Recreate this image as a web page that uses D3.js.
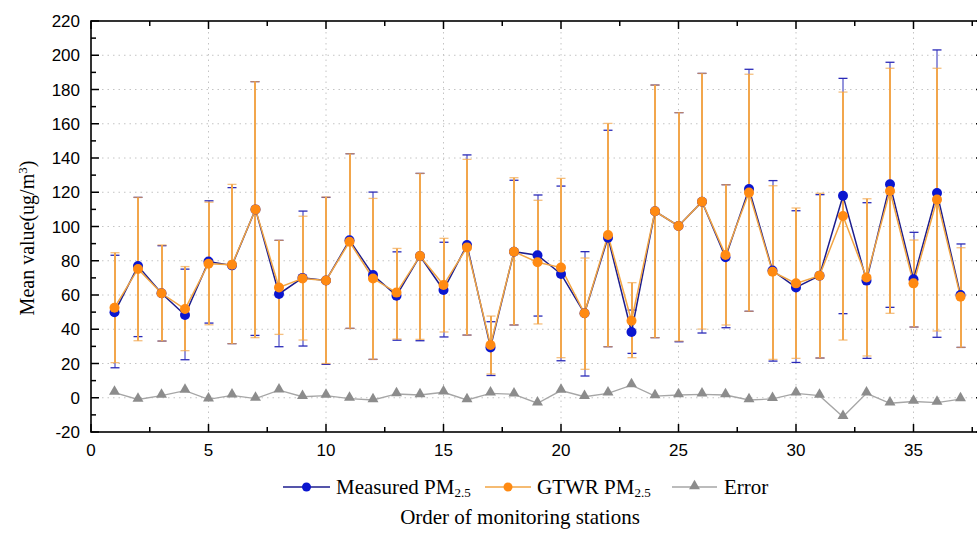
<!DOCTYPE html>
<html lang="en">
<head>
<meta charset="utf-8">
<title>PM2.5</title>
<script src="https://d3js.org/d3.v7.min.js"></script>
<style>
  body { margin: 0; background: #fff; }
  svg { display: block; }
  .tick-label { font-family: "Liberation Sans", Arial, sans-serif; font-size: 17px; fill: #000; }
  .serif { font-family: "Liberation Serif", "Times New Roman", serif; fill: #000; }
</style>
</head>
<body>
<div id="chart"></div>
<script>

// station order on x axis
var stations = [1, 2, 3, 4, 5, 6, 7, 8, 9, 10, 11, 12, 13, 14, 15, 16, 17, 18, 19, 20,
  21, 22, 23, 24, 25, 26, 27, 28, 29, 30, 31, 32, 33, 34, 35, 36, 37];

var measured = [49.9, 76.9, 61.0, 48.3, 79.5, 77.3, 110.0, 60.6, 70.0, 68.5, 92.0, 71.7, 59.6, 82.8, 62.9, 89.2, 29.4, 85.3, 83.2, 72.3,
  49.3, 93.5, 38.4, 108.9, 100.3, 114.5, 82.0, 121.9, 74.3, 64.4, 71.3, 118.0, 68.4, 124.6, 69.2, 119.6, 60.0];
var measuredHigh = [83.2, 117, 88.8, 75.1, 115, 122.7, 184.6, 91.9, 109, 117, 142.5, 120.1, 85.2, 131, 90.8, 141.8, 44.4, 127, 118.4, 123.6,
  85.3, 156.2, 51.2, 182.6, 166.5, 189.4, 124.4, 191.8, 126.8, 109.2, 118.6, 186.5, 113.9, 195.9, 96.6, 203.1, 89.8];
var measuredLow = [17.5, 35.7, 33.1, 22.2, 43.6, 31.6, 36.4, 29.8, 30.2, 19.5, 40.5, 22.4, 33.6, 33.3, 35.5, 36.6, 13.0, 42.5, 47.7, 21.6,
  12.7, 29.8, 25.9, 35.1, 32.7, 37.8, 40.9, 50.5, 21.4, 20.6, 23.2, 49.1, 23.0, 52.8, 41.3, 35.3, 29.4];

var gtwr = [52.6, 75.2, 61.0, 51.8, 78.3, 77.7, 110.0, 64.4, 69.7, 68.5, 91.1, 69.6, 61.4, 82.8, 65.8, 87.8, 30.8, 85.3, 79.1, 76.0,
  49.3, 95.0, 45.0, 108.9, 100.3, 114.5, 83.4, 119.8, 73.6, 66.8, 71.3, 106.1, 70.2, 120.7, 66.8, 115.7, 59.0];
var gtwrHigh = [84.7, 117, 89.2, 76.6, 114.2, 124.6, 184.6, 91.9, 106, 117.2, 142.5, 116.4, 87.2, 131, 93.1, 139.2, 47.7, 128.5, 115.3, 128.1,
  81.6, 160.2, 67.2, 182.6, 166.5, 189.4, 124.4, 188.9, 123.8, 110.8, 119.4, 178.5, 116.2, 192.4, 92.1, 192.4, 87.6];
var gtwrLow = [20.5, 33.3, 33.1, 27.5, 42.6, 31.6, 35.1, 37.0, 33.7, 20.0, 40.5, 22.4, 34.3, 34.1, 38.4, 36.6, 13.9, 42.5, 43.1, 23.4,
  16.6, 29.8, 23.4, 35.1, 33.1, 40.1, 42.5, 50.5, 22.4, 23.0, 23.2, 33.7, 24.4, 49.3, 41.3, 39.0, 29.4];

var errorVals = [3.0, -1.0, 1.2, 4.2, -0.9, 1.4, -0.5, 4.4, 0.6, 1.2, -0.5, -1.3, 2.2, 1.6, 3.2, -1.3, 2.6, 2.0, -3.2, 4.2,
  0.6, 2.6, 7.4, 1.0, 1.6, 2.0, 1.6, -1.3, -0.7, 2.6, 1.2, -11.1, 2.6, -3.2, -2.2, -2.8, -0.8];

var xTicks = [0, 5, 10, 15, 20, 25, 30, 35];
var yTicks = [-20, 0, 20, 40, 60, 80, 100, 120, 140, 160, 180, 200, 220];

// layout
var W = 977, H = 539;
var plotLeft = 91, plotRight = 984, plotTop = 21, plotBottom = 432;

var svg = d3.select("#chart").append("svg")
  .attr("width", W)
  .attr("height", H);

var x = d3.scaleLinear().domain([0, 38]).range([plotLeft, plotRight]);
var y = d3.scaleLinear().domain([-20, 220]).range([plotBottom, plotTop]);

var blue = "#0b16cf", blueLine = "#1d1d8e", blueBar = "#2a2ab8";
var orange = "#ff8a12", orangeLine = "#f2a543", orangeBar = "#f2a64c";
var grey = "#8c8c8c", greyLine = "#a6a6a6";

/* ---------- grid ---------- */
svg.append("g").selectAll("line")
  .data(yTicks.filter(function(d) { return d > -20 && d < 220; }))
  .enter().append("line")
    .attr("x1", plotLeft).attr("x2", plotRight)
    .attr("y1", function(d) { return y(d); })
    .attr("y2", function(d) { return y(d); })
    .attr("stroke", "#c4c4c4")
    .attr("stroke-width", 1)
    .style("stroke-dasharray", "1.5,4");
svg.append("g").selectAll("line")
  .data(xTicks.filter(function(d) { return d > 0; }))
  .enter().append("line")
    .attr("x1", function(d) { return x(d); })
    .attr("x2", function(d) { return x(d); })
    .attr("y1", plotTop).attr("y2", plotBottom)
    .attr("stroke", "#c4c4c4")
    .attr("stroke-width", 1)
    .style("stroke-dasharray", "1.5,4");

/* ---------- error bars ---------- */
// stems snapped to the pixel grid so the blue one does not bleed through the orange
function errorBars(lo, hi, color, stemWidth, capOpacity) {
  var g = svg.append("g")
    .attr("stroke", color);
  g.selectAll(null).data(stations).enter().append("line")
    .attr("x1", function(d) { return Math.round(x(d)); })
    .attr("x2", function(d) { return Math.round(x(d)); })
    .attr("y1", function(d, i) { return y(lo[i]); })
    .attr("y2", function(d, i) { return y(hi[i]); })
    .attr("stroke-width", stemWidth);
  [lo, hi].forEach(function(arr) {
    g.selectAll(null).data(stations).enter().append("line")
      .attr("x1", function(d) { return Math.round(x(d)) - 4.5; })
      .attr("x2", function(d) { return Math.round(x(d)) + 4.5; })
      .attr("y1", function(d, i) { return y(arr[i]); })
      .attr("y2", function(d, i) { return y(arr[i]); })
      .attr("stroke-width", 1.3)
      .attr("opacity", capOpacity);
  });
}
errorBars(measuredLow, measuredHigh, blueBar, 1, 1);
errorBars(gtwrLow, gtwrHigh, orangeBar, 2, 0.7);

/* ---------- lines ---------- */
function seriesLine(vals, color, width) {
  var line = d3.line()
    .x(function(d) { return x(d); })
    .y(function(d, i) { return y(vals[i]); });
  svg.append("path")
    .datum(stations)
    .attr("d", line)
    .attr("fill", "none")
    .attr("stroke", color)
    .attr("stroke-width", width);
}
seriesLine(measured, blueLine, 1.5);
seriesLine(gtwr, orangeLine, 1.5);

svg.append("g").selectAll("circle")
  .data(stations).enter().append("circle")
    .attr("cx", function(d) { return x(d); })
    .attr("cy", function(d, i) { return y(measured[i]); })
    .attr("r", 5)
    .attr("fill", blue);
svg.append("g").selectAll("circle")
  .data(stations).enter().append("circle")
    .attr("cx", function(d) { return x(d); })
    .attr("cy", function(d, i) { return y(gtwr[i]); })
    .attr("r", 5)
    .attr("fill", orange);

seriesLine(errorVals, greyLine, 1.3);
var tri = d3.symbol().type(d3.symbolTriangle).size(52);
svg.append("g").selectAll("path")
  .data(stations).enter().append("path")
    .attr("d", tri)
    .attr("transform", function(d, i) { return "translate(" + x(d) + "," + (y(errorVals[i]) - 1) + ")"; })
    .attr("fill", grey);

/* ---------- axes frame ---------- */
var minorX = d3.range(0, 38.1, 2.5);
var minorY = d3.range(-20, 221, 10);
var ticks = svg.append("g").attr("stroke", "#000").attr("stroke-width", 1.5);
minorX.forEach(function(d) {
  var len = (d % 5 === 0) ? 8 : 5;
  ticks.append("line").attr("x1", x(d)).attr("x2", x(d)).attr("y1", plotBottom).attr("y2", plotBottom - len);
  ticks.append("line").attr("x1", x(d)).attr("x2", x(d)).attr("y1", plotTop).attr("y2", plotTop + len);
});
minorY.forEach(function(d) {
  var len = (d % 20 === 0) ? 8 : 5;
  ticks.append("line").attr("x1", plotLeft).attr("x2", plotLeft + len).attr("y1", y(d)).attr("y2", y(d));
  ticks.append("line").attr("x1", plotRight).attr("x2", plotRight - len).attr("y1", y(d)).attr("y2", y(d));
});
svg.append("rect")
  .attr("x", plotLeft).attr("y", plotTop)
  .attr("width", plotRight - plotLeft).attr("height", plotBottom - plotTop)
  .attr("fill", "none")
  .attr("stroke", "#000")
  .attr("stroke-width", 1.6);

// tick labels
svg.append("g").selectAll("text")
  .data(yTicks).enter().append("text")
    .attr("class", "tick-label")
    .attr("x", 80)
    .attr("y", function(d) { return y(d) + 6; })
    .attr("text-anchor", "end")
    .text(function(d) { return d; });
svg.append("g").selectAll("text")
  .data(xTicks).enter().append("text")
    .attr("class", "tick-label")
    .attr("x", function(d) { return x(d); })
    .attr("y", 456)
    .attr("text-anchor", "middle")
    .text(function(d) { return d; });

// axis titles
var yt = svg.append("text")
  .attr("class", "serif")
  .attr("transform", "translate(34,238) rotate(-90)")
  .attr("text-anchor", "middle")
  .style("font-size", "20px");
yt.append("tspan").text("Mean value(ug/m");
yt.append("tspan").attr("baseline-shift", "super").style("font-size", "13px").text("3");
yt.append("tspan").text(")");

svg.append("text")
  .attr("class", "serif")
  .attr("x", 520)
  .attr("y", 524)
  .attr("text-anchor", "middle")
  .style("font-size", "21px")
  .text("Order of monitoring stations");

/* ---------- legend ---------- */
var legendY = 487;
var legendItems = [
  {x1: 283, x2: 330, color: blueLine, mark: "dot", fill: blue, label: "Measured PM", sub: "2.5", tx: 336},
  {x1: 485, x2: 531, color: orangeLine, mark: "dot", fill: orange, label: "GTWR PM", sub: "2.5", tx: 537},
  {x1: 672, x2: 717, color: greyLine, mark: "tri", fill: grey, label: "Error", sub: "", tx: 724}
];
legendItems.forEach(function(it) {
  svg.append("line")
    .attr("x1", it.x1).attr("x2", it.x2)
    .attr("y1", legendY).attr("y2", legendY)
    .attr("stroke", it.color).attr("stroke-width", 1.5);
  var cx = (it.x1 + it.x2) / 2;
  if (it.mark === "dot") {
    svg.append("circle").attr("cx", cx).attr("cy", legendY).attr("r", 4.5).attr("fill", it.fill);
  } else {
    svg.append("path").attr("d", tri).attr("transform", "translate(" + cx + "," + (legendY - 1) + ")").attr("fill", it.fill);
  }
  var t = svg.append("text")
    .attr("class", "serif")
    .attr("x", it.tx)
    .attr("y", legendY + 7)
    .style("font-size", "21px");
  t.append("tspan").text(it.label);
  if (it.sub) t.append("tspan").attr("baseline-shift", "-3").style("font-size", "13px").text(it.sub);
});

</script>
</body>
</html>
